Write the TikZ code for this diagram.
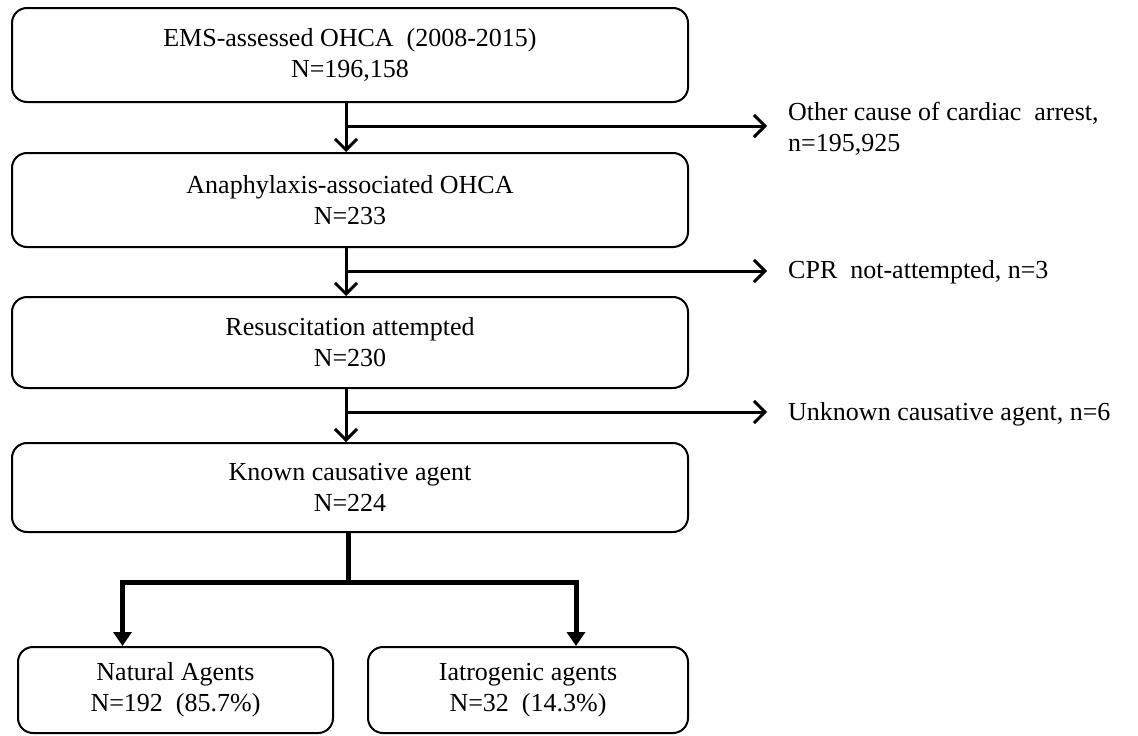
\documentclass[tikz,border=0pt]{standalone}
\usepackage{fontspec}
\setmainfont{Liberation Serif}
\usetikzlibrary{arrows.meta}
\tikzset{
  box/.style={draw, line width=2pt, rounded corners=15pt, align=center, inner sep=0pt,
    font=\fontsize{26}{31}\selectfont},
  sidelabel/.style={anchor=west, align=left, inner sep=0pt, font=\fontsize{26}{31}\selectfont},
  flow/.style={line width=3pt, -{Straight Barb[length=11pt,width=22pt,line width=3pt]}},
  split/.style={line width=5pt, -{Triangle[length=14pt,width=18pt]}},
}
\begin{document}
\begin{tikzpicture}[x=1pt,y=-1pt]
\useasboundingbox (0,0) rectangle (1138,736);
\node[box, minimum width=676pt, minimum height=94pt] (b1) at (350,55) {EMS-assessed OHCA\ \ (2008-2015)\\N=196,158};
\node[box, minimum width=676pt, minimum height=94pt] (b2) at (350,200) {Anaphylaxis-associated OHCA\\N=233};
\node[box, minimum width=676pt, minimum height=91pt] (b3) at (350,342.5) {Resuscitation attempted\\N=230};
\node[box, minimum width=676pt, minimum height=89pt] (b4) at (350,487.5) {Known causative agent\\N=224};
\node[box, minimum width=315pt, minimum height=86pt] (nat) at (175.5,690) {Natural Agents\\N=192\ \ (85.7\%)};
\node[box, minimum width=320pt, minimum height=86pt] (iat) at (528,690) {Iatrogenic agents\\N=32\ \ (14.3\%)};

\node[sidelabel] (o1) at (788,129) {Other cause of cardiac\ \ arrest,\\n=195,925};
\node[sidelabel] (o2) at (788,272) {CPR\ \ not-attempted, n=3};
\node[sidelabel] (o3) at (788,414) {Unknown causative agent, n=6};

\coordinate (s1) at (346,126);
\coordinate (s2) at (346,271);
\coordinate (s3) at (346,412);

\draw[flow] ([xshift=-4pt]b1.south) -- ([xshift=-4pt]b2.north);
\draw[flow] ([xshift=-4pt]b2.south) -- ([xshift=-4pt]b3.north);
\draw[flow] ([xshift=-4pt]b3.south) -- ([xshift=-4pt]b4.north);
\draw[flow, shorten >=21pt] (s1) -- (s1 -| o1.west);
\draw[flow, shorten >=21pt] (s2) -- (s2 -| o2.west);
\draw[flow, shorten >=21pt] (s3) -- (s3 -| o3.west);

\coordinate (m) at (348,582);
\draw[split] ([xshift=-2pt]b4.south) -- (m) -| ([xshift=-53pt]nat.north);
\draw[split] (m) -| ([xshift=48pt]iat.north);
\end{tikzpicture}
\end{document}
